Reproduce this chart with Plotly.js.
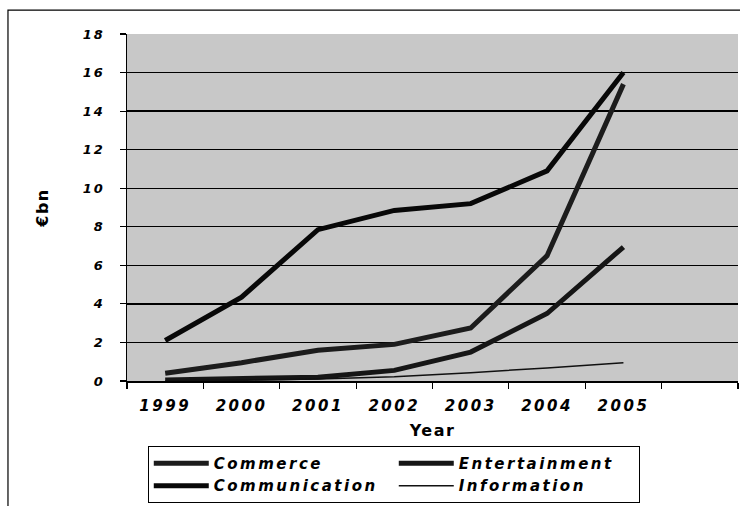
<!DOCTYPE html>
<html>
<head>
<meta charset="utf-8">
<script src="https://cdn.plot.ly/plotly-3.0.1.min.js"></script>
<style>
  html, body { margin: 0; padding: 0; background: #ffffff; }
  #chart { width: 740px; height: 506px; }
  .xtick text { letter-spacing: 2.5px; }
  .ytick text { letter-spacing: 2px; }
  .legendtext { letter-spacing: 2.5px; }
  .g-xtitle text, .g-ytitle text { letter-spacing: 1.5px; }
</style>
</head>
<body>
<div id="chart"></div>
<script>
// ---- data ----
const years = [1999, 2000, 2001, 2002, 2003, 2004, 2005];
const communication = [2.1, 4.35, 7.85, 8.85, 9.2, 10.9, 16.0];
const commerce      = [0.4, 0.95, 1.6, 1.9, 2.75, 6.5, 15.4];
const entertainment = [0.05, 0.1, 0.2, 0.55, 1.5, 3.5, 6.95];
const information   = [0.0, 0.05, 0.1, 0.22, 0.43, 0.68, 0.95];
const yTicks = [0, 2, 4, 6, 8, 10, 12, 14, 16, 18];
const seriesNames = ['Commerce', 'Entertainment', 'Communication', 'Information'];

const FONT = 'DejaVu Sans, Liberation Sans, Arial, sans-serif';
const boundaries = [years[0] - 0.5].concat(years.map(y => y + 0.5), [years[years.length - 1] + 1.5]);

const traces = [
  { x: years, y: commerce, name: seriesNames[0], mode: 'lines',
    line: { color: '#1c1c1c', width: 5 } },
  { x: years, y: entertainment, name: seriesNames[1], mode: 'lines',
    line: { color: '#161616', width: 5 } },
  { x: years, y: communication, name: seriesNames[2], mode: 'lines',
    line: { color: '#080808', width: 5 } },
  { x: years, y: information, name: seriesNames[3], mode: 'lines',
    line: { color: '#111111', width: 1.5 } }
];

const layout = {
  width: 740, height: 506,
  margin: { l: 127, r: 2, t: 34, b: 125, autoexpand: false },
  paper_bgcolor: '#ffffff',
  plot_bgcolor: '#c8c8c8',
  font: { family: FONT, color: '#000000' },
  showlegend: true,
  xaxis: {
    type: 'linear',
    range: [years[0] - 0.5, years[years.length - 1] + 1.5],
    tickmode: 'array', tickvals: years, ticktext: years.map(String),
    ticks: '', showgrid: false, zeroline: false,
    showline: true, linecolor: '#000000', linewidth: 1.5,
    ticklabelstandoff: 10,
    tickfont: { family: FONT, size: 15, weight: 'bold', style: 'italic', color: '#000' },
    minor: { tickmode: 'array', tickvals: boundaries, ticks: 'outside', ticklen: 6,
             tickcolor: '#000000', tickwidth: 1.2, showgrid: false },
    title: { text: 'Year', standoff: 11,
             font: { family: FONT, size: 16, weight: 'bold', color: '#000' } },
    fixedrange: true
  },
  yaxis: {
    range: [0, 18],
    tickmode: 'array', tickvals: yTicks,
    ticks: 'outside', ticklen: 6, tickcolor: '#000000', tickwidth: 1.2,
    showgrid: true, gridcolor: '#000000', gridwidth: 1.4,
    zeroline: false,
    showline: true, linecolor: '#000000', linewidth: 1.5,
    ticklabelstandoff: 12,
    tickfont: { family: FONT, size: 13, weight: 'bold', style: 'italic', color: '#000' },
    title: { text: '€bn', standoff: 30,
             font: { family: FONT, size: 16, weight: 'bold', color: '#000' } },
    fixedrange: true
  },
  legend: {
    orientation: 'h',
    x: 0.034, xanchor: 'left',
    y: -0.187, yanchor: 'top',
    bgcolor: '#ffffff', bordercolor: '#000000', borderwidth: 1,
    entrywidth: 175, entrywidthmode: 'pixels',
    itemwidth: 55,
    traceorder: 'normal',
    font: { family: FONT, size: 15, weight: 'bold', style: 'italic', color: '#000' }
  },
  shapes: [
    { type: 'rect', xref: 'paper', yref: 'paper',
      x0: -0.1948, x1: 1.01, y0: -0.372, y1: 1.069,
      line: { color: '#000000', width: 1.2 }, fillcolor: 'rgba(0,0,0,0)', layer: 'below' }
  ]
};

Plotly.newPlot('chart', traces, layout, { displayModeBar: false, staticPlot: true });
</script>
</body>
</html>
